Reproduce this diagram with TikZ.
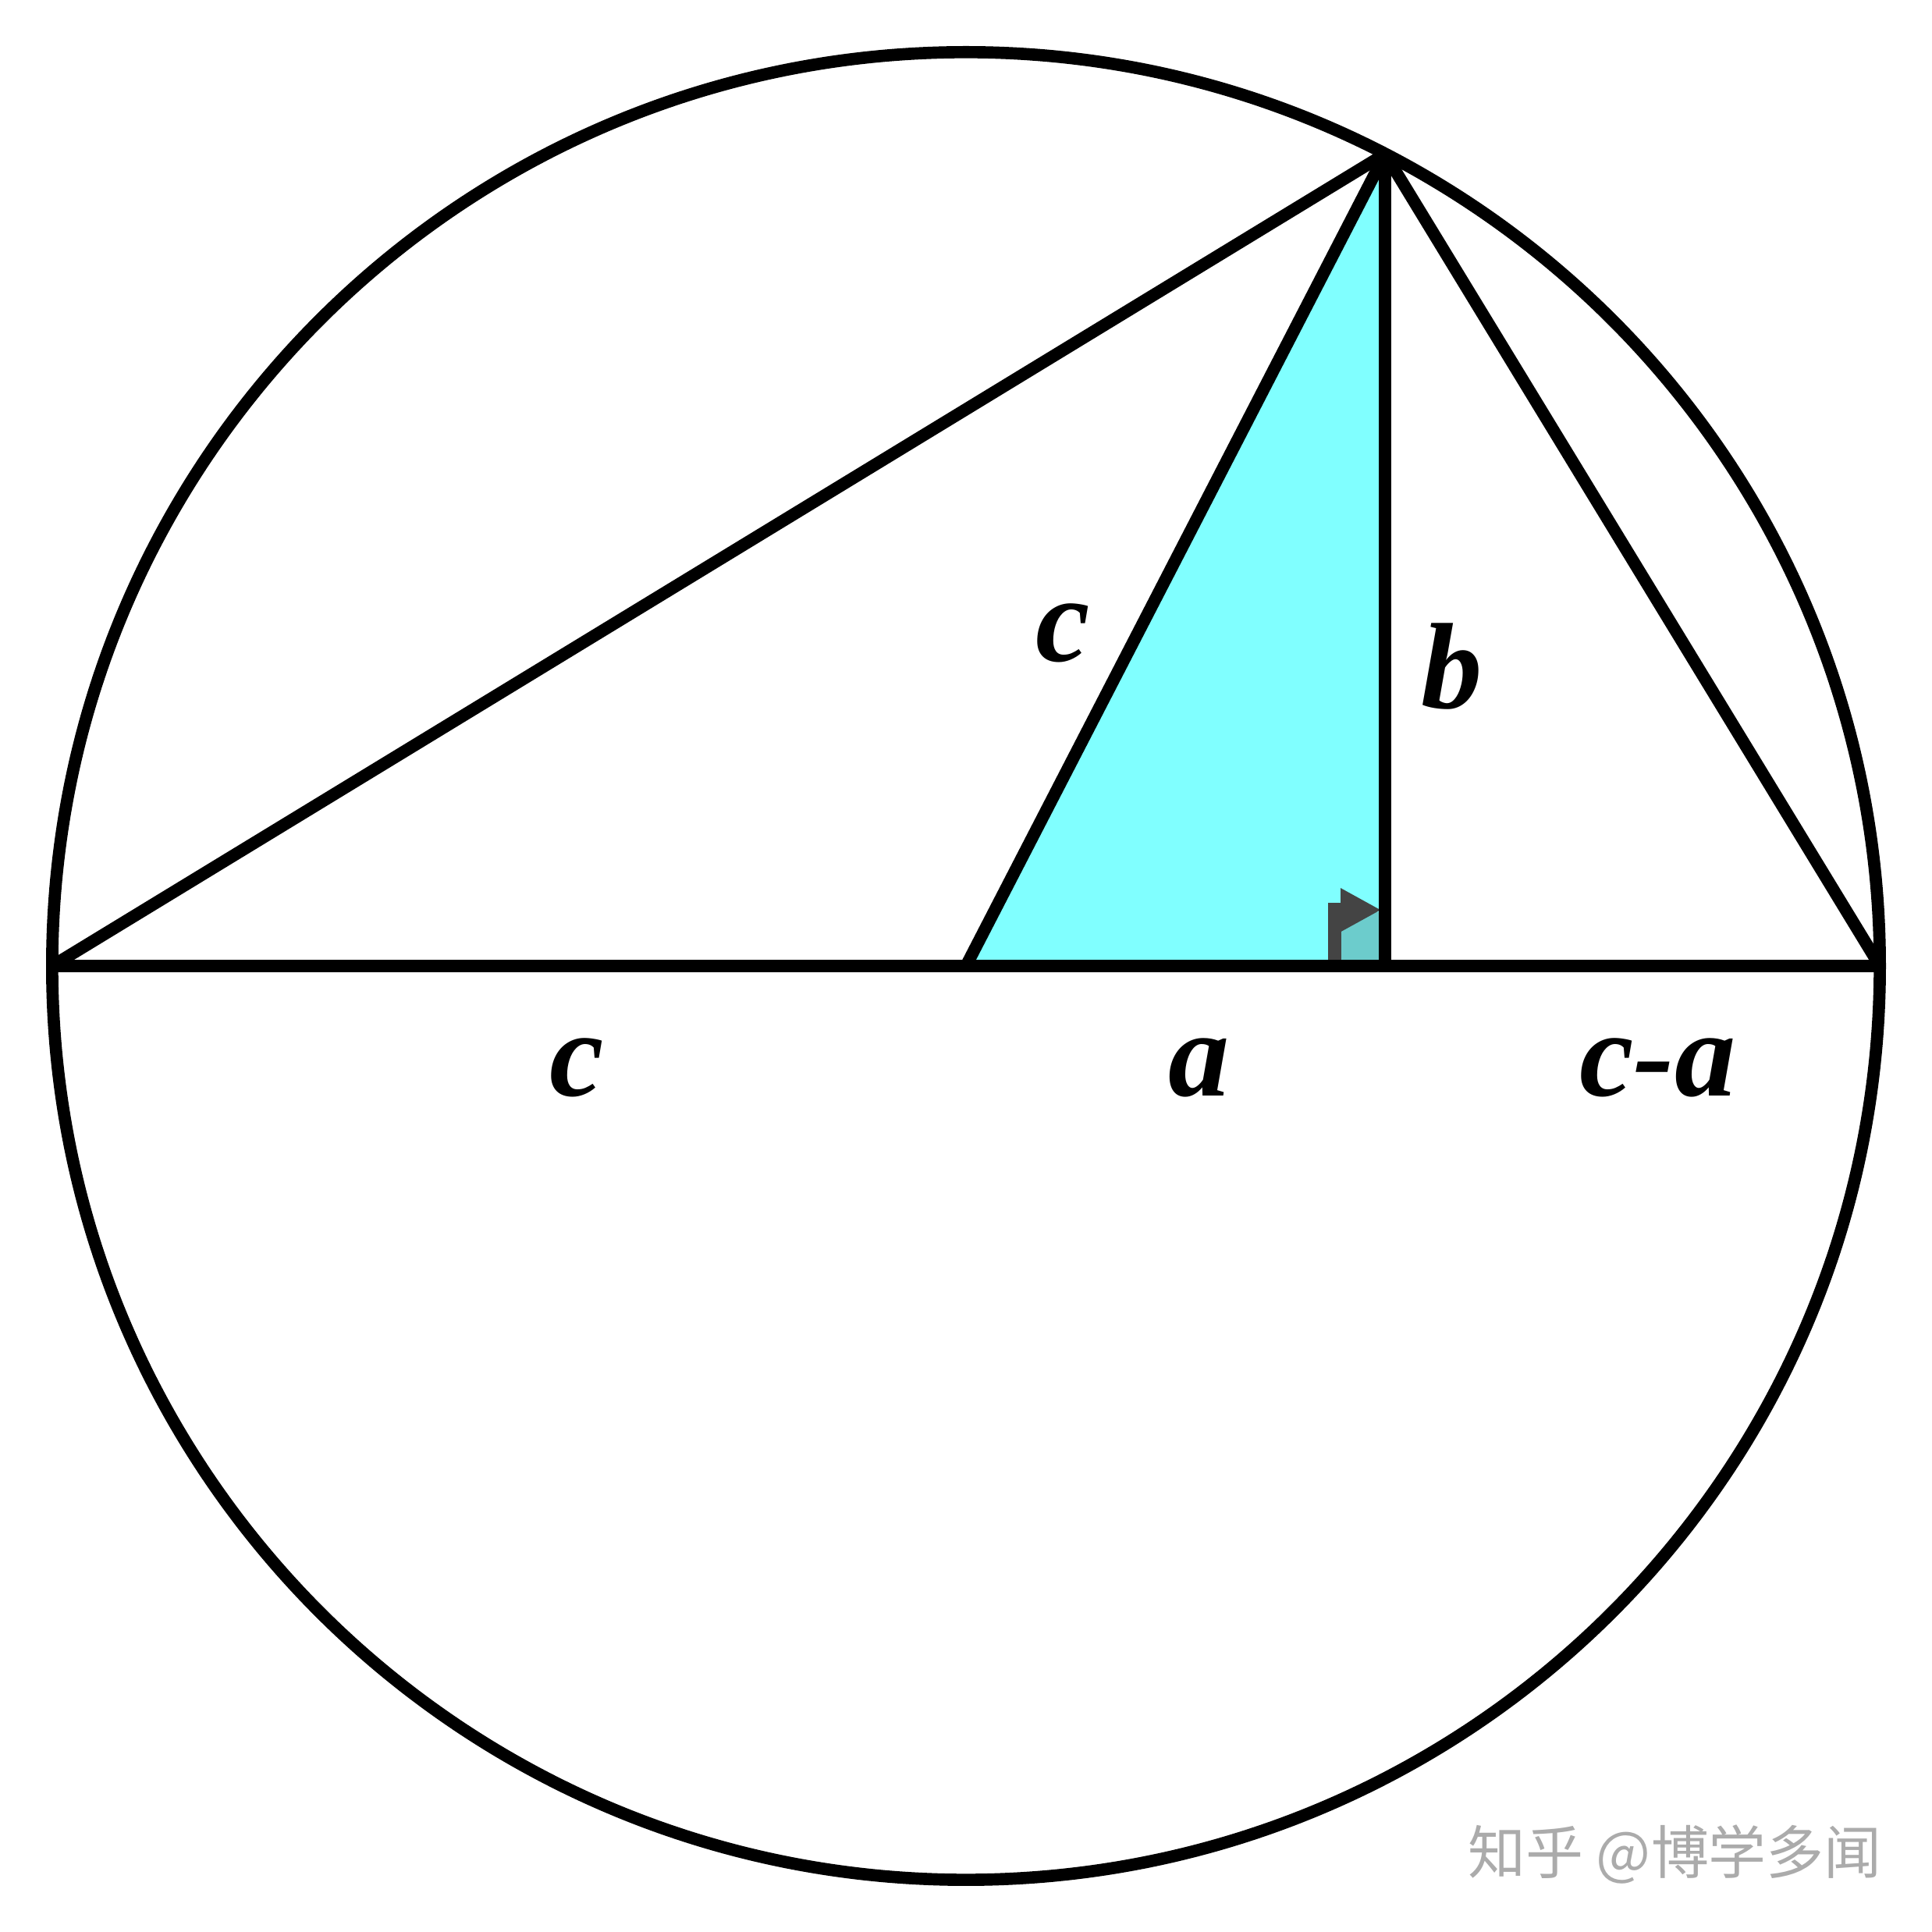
\documentclass[tikz,border=0pt]{standalone}
\usepackage{fontspec}
\setmainfont{Liberation Serif}
\newfontfamily\cjk{Noto Sans CJK SC}
\usetikzlibrary{arrows.meta,calc}
\definecolor{triCyan}{RGB}{128,255,255}
\definecolor{markTeal}{RGB}{108,204,204}
\definecolor{markGray}{RGB}{68,68,68}
\tikzset{
  edge/.style={line width=3.6pt, line join=round},
  lbl/.style={font=\fontsize{36}{40}\selectfont\bfseries\itshape, inner sep=0pt},
}

\begin{document}
\begin{tikzpicture}
% fix the page size
\useasboundingbox (0,0) rectangle (20,20);

% radius of the circle and angle of the top point
\def\R{9.46}
\def\ang{62.7}

% points on the diameter and on the circle
\coordinate (O) at (10,10);
\coordinate (A) at (10-\R,10);
\coordinate (B) at (10+\R,10);
\coordinate (P) at ($(O)+(\ang:\R)$);
\coordinate (H) at (P |- O);

% Shade the right triangle
\fill[triCyan] (O) -- (P) -- (H) -- cycle;

% right angle mark
\fill[markTeal] ($(H)+(-0.56,0)$) rectangle ($(H)+(0,0.56)$);
\draw[markGray, line width=4pt, -{Triangle[length=0.42cm, width=0.42cm]}]
  ($(H)+(-0.52,0)$) -- ($(H)+(-0.52,0.58)$) -- ($(H)+(-0.04,0.58)$);

% circle and chords
\draw[edge] (O) circle (\R);
\draw[edge] (A) -- (B);
\draw[edge] (A) -- (P);
\draw[edge] (O) -- (P);
\draw[edge] (P) -- (H);
\draw[edge] (P) -- (B);

% side labels
\node[lbl] (lc1) at (5.97,8.95) {c};
\node[lbl] (la) at (12.41,8.95) {a};
\node[lbl] (lca) at (17.16,8.95) {c-a};
\node[lbl] (lc2) at (11.0,13.45) {c};
\node[lbl] (lb) at (15.03,13.1) {b};

% watermark
\node[font=\cjk\fontsize{17}{20}\selectfont, text=black!33, inner sep=0pt] (wm) at (17.34,0.8) {知乎 @博学多闻};

\end{tikzpicture}
\end{document}
